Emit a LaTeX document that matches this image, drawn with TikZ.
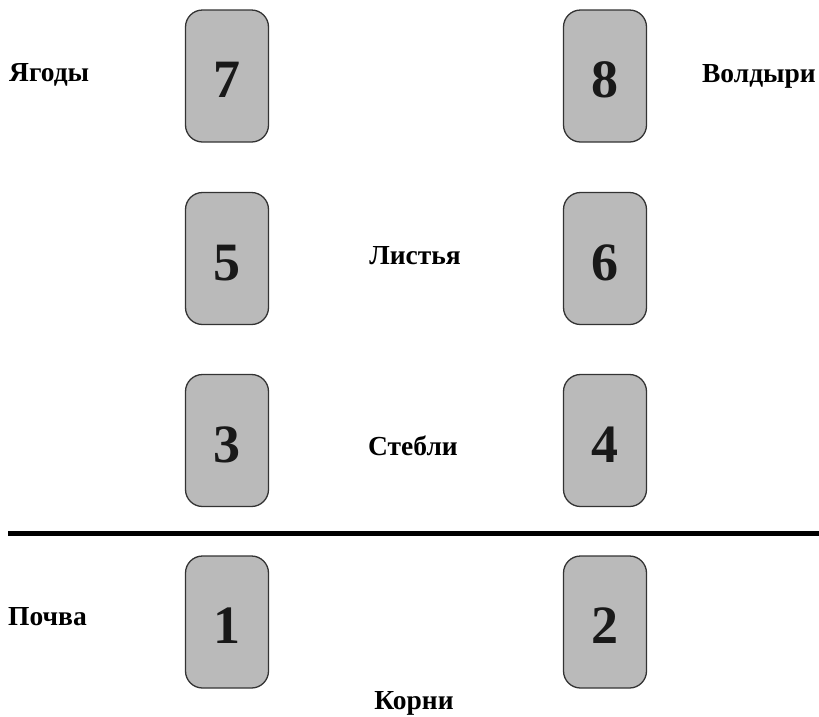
\documentclass[tikz,border=0pt]{standalone}
\usepackage{fontspec}
\setmainfont{Liberation Serif}
\tikzset{
  card/.style={draw=black!80, line width=1.3pt, fill=black!27, rounded corners=17pt, minimum width=83pt, minimum height=132pt, inner sep=0pt},
  digit/.style={font=\fontsize{54}{60}\selectfont\bfseries, text=black!90, inner sep=0pt, anchor=base},
  lbl/.style={font=\fontsize{27.5}{32}\selectfont\bfseries, inner sep=0pt, anchor=base}
}
\begin{document}
\begin{tikzpicture}[x=1pt,y=-1pt]
\useasboundingbox (0,0) rectangle (819,716);
% cards
\node[card] (c7) at (227,76) {};
\node[card] (c8) at (605,76) {};
\node[card] (c5) at (227,258.5) {};
\node[card] (c6) at (605,258.5) {};
\node[card] (c3) at (227,440.5) {};
\node[card] (c4) at (605,440.5) {};
\node[card] (c1) at (227,622) {};
\node[card] (c2) at (605,622) {};
% digits
\node[digit] (d7) at (227,97.5) {7};
\node[digit] (d8) at (605,97.5) {8};
\node[digit] (d5) at (227,280) {5};
\node[digit] (d6) at (605,280) {6};
\node[digit] (d3) at (227,462) {3};
\node[digit] (d4) at (605,462) {4};
\node[digit] (d1) at (227,643.5) {1};
\node[digit] (d2) at (605,643.5) {2};
% labels
\node[lbl, anchor=base west] (yagody) at (9,81) {Ягоды};
\node[lbl, anchor=base east] (voldyri) at (816,82) {Волдыри};
\node[lbl] (listya) at (415,264) {Листья};
\node[lbl] (stebli) at (413,455) {Стебли};
\node[lbl, anchor=base west] (pochva) at (8,625) {Почва};
\node[lbl] (korni) at (414,709) {Корни};
% separator
\draw[line width=4.5pt] (8,533.5) -- (819,533.5);
\end{tikzpicture}
\end{document}
